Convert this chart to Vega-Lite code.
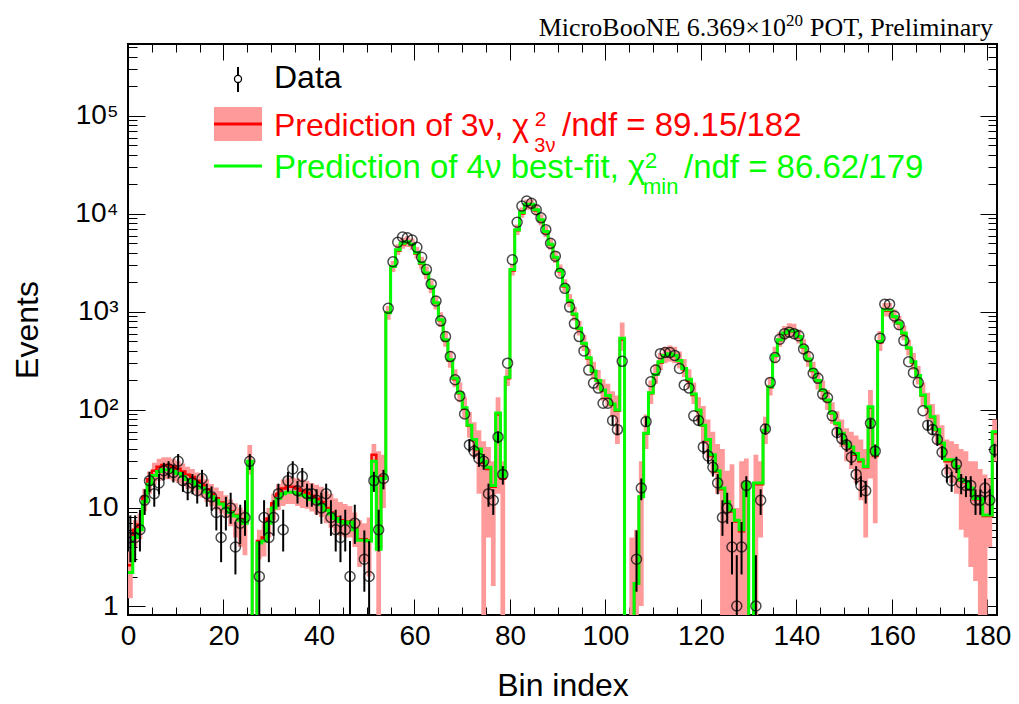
{
"$schema": "https://vega.github.io/schema/vega-lite/v6.json",
"width": 869, "height": 571,
"autosize": {"type": "none"},
"padding": {"left": 128, "top": 44, "right": 22, "bottom": 89},
"background": "white",
"config": {
  "view": {"stroke": "black", "strokeWidth": 2},
  "font": "Liberation Sans",
  "axis": {"domain": false, "grid": false, "labelFont": "Liberation Sans", "labelFontSize": 28, "labelColor": "black", "tickColor": "black", "tickWidth": 1, "titleFont": "Liberation Sans", "titleFontSize": 32, "titleFontWeight": "normal", "titleColor": "black", "labelOverlap": false, "labelFlush": false, "labelBound": false}
},
"datasets": {"h": [
{"b":0,"c":0.5,"g":2.2,"r":2.6,"lo":1.2,"hi":3.6,"d":5,"el":2.8,"eh":8.4},
{"b":1,"c":1.5,"g":5,"r":6,"lo":4,"hi":7.5,"d":5,"el":2.8,"eh":8.4},
{"b":2,"c":2.5,"g":6,"r":6.8,"lo":4.8,"hi":8.8,"d":6,"el":3.6,"eh":9.6},
{"b":3,"c":3.5,"g":11.6,"r":13,"lo":9.3,"hi":15.7,"d":12,"el":8.5,"eh":15.5},
{"b":4,"c":4.5,"g":17.5,"r":19.6,"lo":14,"hi":23.6,"d":19,"el":14.6,"eh":23.4},
{"b":5,"c":5.5,"g":21.5,"r":24,"lo":17.2,"hi":29,"d":14,"el":10.3,"eh":17.7},
{"b":6,"c":6.5,"g":23.5,"r":26.3,"lo":18.8,"hi":31.7,"d":18,"el":13.8,"eh":22.2},
{"b":7,"c":7.5,"g":24.5,"r":27.4,"lo":19.6,"hi":33,"d":24,"el":19.1,"eh":28.9},
{"b":8,"c":8.5,"g":24.5,"r":27.4,"lo":19.6,"hi":33,"d":25,"el":20,"eh":30},
{"b":9,"c":9.5,"g":23.5,"r":26.3,"lo":18.8,"hi":31.7,"d":23,"el":18.2,"eh":27.8},
{"b":10,"c":10.5,"g":22.5,"r":25.2,"lo":18,"hi":30.4,"d":30,"el":24.5,"eh":35.5},
{"b":11,"c":11.5,"g":21,"r":23.5,"lo":16.8,"hi":28.4,"d":19,"el":14.6,"eh":23.4},
{"b":12,"c":12.5,"g":19.5,"r":21.8,"lo":15.6,"hi":26.3,"d":16,"el":12,"eh":20},
{"b":13,"c":13.5,"g":18.5,"r":20.7,"lo":14.8,"hi":25,"d":18,"el":13.8,"eh":22.2},
{"b":14,"c":14.5,"g":17,"r":19,"lo":13.6,"hi":23,"d":15,"el":11.1,"eh":18.9},
{"b":15,"c":15.5,"g":16,"r":17.3,"lo":12.8,"hi":21.6,"d":20,"el":15.5,"eh":24.5},
{"b":16,"c":16.5,"g":14.5,"r":15.5,"lo":11.6,"hi":19.6,"d":14,"el":10.3,"eh":17.7},
{"b":17,"c":17.5,"g":13,"r":13.8,"lo":10.4,"hi":17.6,"d":13,"el":9.4,"eh":16.6},
{"b":18,"c":18.5,"g":12,"r":12.6,"lo":9.6,"hi":16.2,"d":9,"el":5.9,"eh":13},
{"b":19,"c":19.5,"g":11,"r":11.4,"lo":8.8,"hi":14.9,"d":5,"el":2.8,"eh":8.4},
{"b":20,"c":20.5,"g":10,"r":10.3,"lo":8,"hi":13.5,"d":9,"el":5.9,"eh":13},
{"b":21,"c":21.5,"g":9,"r":9.2,"lo":6.5,"hi":12.2,"d":10,"el":6.9,"eh":14.3},
{"b":22,"c":22.5,"g":8.3,"r":8.5,"lo":5,"hi":11.2,"d":4,"el":2.1,"eh":7.2},
{"b":23,"c":23.5,"g":7.5,"r":7.7,"lo":4,"hi":10.1,"d":7,"el":4.3,"eh":10.8},
{"b":24,"c":24.5,"g":7,"r":7.2,"lo":3.3,"hi":9.5,"d":8,"el":5.2,"eh":12},
{"b":25,"c":25.5,"g":30,"r":30,"lo":22,"hi":44,"d":30,"el":24.5,"eh":35.5},
{"b":26,"c":26.5,"g":0.5,"r":0.5,"lo":0.5,"hi":0.5},
{"b":27,"c":27.5,"g":4.4,"r":4.6,"lo":3,"hi":6,"d":2,"el":0.7,"eh":4.6},
{"b":28,"c":28.5,"g":4.6,"r":5,"lo":3.2,"hi":7,"d":8,"el":5.2,"eh":12},
{"b":29,"c":29.5,"g":7,"r":7.8,"lo":5,"hi":10,"d":5,"el":2.8,"eh":8.4},
{"b":30,"c":30.5,"g":10,"r":11.2,"lo":7.5,"hi":14,"d":8,"el":5.2,"eh":12},
{"b":31,"c":31.5,"g":12.5,"r":14,"lo":9.5,"hi":17.5,"d":14,"el":10.3,"eh":17.7},
{"b":32,"c":32.5,"g":14,"r":15.8,"lo":10.5,"hi":19.5,"d":6,"el":3.6,"eh":9.6},
{"b":33,"c":33.5,"g":14.5,"r":16.5,"lo":11,"hi":20.5,"d":19,"el":14.6,"eh":23.4},
{"b":34,"c":34.5,"g":14.5,"r":16.5,"lo":11,"hi":20.5,"d":25,"el":20,"eh":30},
{"b":35,"c":35.5,"g":14,"r":15.8,"lo":10.5,"hi":20,"d":15,"el":11.1,"eh":18.9},
{"b":36,"c":36.5,"g":13.5,"r":15,"lo":10,"hi":19.5,"d":21,"el":16.4,"eh":25.6},
{"b":37,"c":37.5,"g":13,"r":14.3,"lo":9.8,"hi":19,"d":14,"el":10.3,"eh":17.7},
{"b":38,"c":38.5,"g":12.2,"r":13.3,"lo":9.2,"hi":18,"d":14,"el":10.3,"eh":17.7},
{"b":39,"c":39.5,"g":11.5,"r":12.4,"lo":8.6,"hi":17.3,"d":12,"el":8.5,"eh":15.5},
{"b":40,"c":40.5,"g":10.8,"r":11.5,"lo":8.1,"hi":16.5,"d":10,"el":6.9,"eh":14.3},
{"b":41,"c":41.5,"g":9.5,"r":10,"lo":7,"hi":15,"d":14,"el":10.3,"eh":17.7},
{"b":42,"c":42.5,"g":8.7,"r":9,"lo":6.3,"hi":14,"d":8,"el":5.2,"eh":12},
{"b":43,"c":43.5,"g":7.8,"r":8,"lo":5.6,"hi":12.5,"d":6,"el":3.6,"eh":9.6},
{"b":44,"c":44.5,"g":7.3,"r":7.5,"lo":5.2,"hi":11.5,"d":5,"el":2.8,"eh":8.4},
{"b":45,"c":45.5,"g":7,"r":7.2,"lo":5,"hi":11,"d":6,"el":3.6,"eh":9.6},
{"b":46,"c":46.5,"g":7.2,"r":7.3,"lo":5,"hi":10.5,"d":2,"el":0.7,"eh":4.6},
{"b":47,"c":47.5,"g":6,"r":6.1,"lo":4,"hi":9,"d":7,"el":4.3,"eh":10.8},
{"b":48,"c":48.5,"g":4.7,"r":4.8,"lo":2.5,"hi":7.5},
{"b":49,"c":49.5,"g":4.7,"r":4.8,"lo":2.8,"hi":7,"d":3,"el":1.4,"eh":5.9},
{"b":50,"c":50.5,"g":4.6,"r":4.7,"lo":2,"hi":8,"d":2,"el":0.7,"eh":4.6},
{"b":51,"c":51.5,"g":30,"r":35,"lo":20,"hi":45,"d":19,"el":14.6,"eh":23.4},
{"b":52,"c":52.5,"g":3.8,"r":4,"lo":0.5,"hi":38,"d":6,"el":3.6,"eh":9.6},
{"b":53,"c":53.5,"g":20,"r":21,"lo":10,"hi":35,"d":20,"el":15.5,"eh":24.5},
{"b":54,"c":54.5,"g":980,"r":980,"lo":830,"hi":1150,"d":1090,"el":1057,"eh":1123},
{"b":55,"c":55.5,"g":2900,"r":2900,"lo":2550,"hi":3300,"d":3250,"el":3193,"eh":3307},
{"b":56,"c":56.5,"g":4300,"r":4200,"lo":3800,"hi":4900,"d":5130,"el":5058,"eh":5202},
{"b":57,"c":57.5,"g":5000,"r":4900,"lo":4400,"hi":5700,"d":5800,"el":5724,"eh":5876},
{"b":58,"c":58.5,"g":5200,"r":5100,"lo":4600,"hi":5900,"d":5700,"el":5625,"eh":5775},
{"b":59,"c":59.5,"g":4900,"r":4800,"lo":4300,"hi":5600,"d":5400,"el":5327,"eh":5473},
{"b":60,"c":60.5,"g":4000,"r":3950,"lo":3500,"hi":4600,"d":4570,"el":4502,"eh":4638},
{"b":61,"c":61.5,"g":3150,"r":3100,"lo":2750,"hi":3650,"d":3600,"el":3540,"eh":3660},
{"b":62,"c":62.5,"g":2500,"r":2450,"lo":2150,"hi":2900,"d":2700,"el":2648,"eh":2752},
{"b":63,"c":63.5,"g":1800,"r":1780,"lo":1550,"hi":2100,"d":1930,"el":1886,"eh":1974},
{"b":64,"c":64.5,"g":1240,"r":1230,"lo":1060,"hi":1450,"d":1290,"el":1254,"eh":1326},
{"b":65,"c":65.5,"g":830,"r":820,"lo":700,"hi":990,"d":810,"el":782,"eh":838},
{"b":66,"c":66.5,"g":520,"r":515,"lo":440,"hi":630,"d":560,"el":536,"eh":584},
{"b":67,"c":67.5,"g":325,"r":320,"lo":270,"hi":400,"d":350,"el":331,"eh":369},
{"b":68,"c":68.5,"g":210,"r":205,"lo":170,"hi":260,"d":203,"el":189,"eh":217},
{"b":69,"c":69.5,"g":150,"r":148,"lo":120,"hi":190,"d":139,"el":127,"eh":151},
{"b":70,"c":70.5,"g":105,"r":103,"lo":82,"hi":135,"d":91,"el":81.5,"eh":100.5},
{"b":71,"c":71.5,"g":70,"r":69,"lo":52,"hi":95,"d":44,"el":37.4,"eh":50.6},
{"b":72,"c":72.5,"g":50,"r":49,"lo":33,"hi":75,"d":38,"el":31.8,"eh":44.2},
{"b":73,"c":73.5,"g":40,"r":39,"lo":14,"hi":62,"d":32,"el":26.3,"eh":37.7},
{"b":74,"c":74.5,"g":30,"r":29,"lo":0.5,"hi":48,"d":30,"el":24.5,"eh":35.5},
{"b":75,"c":75.5,"g":26,"r":25,"lo":5,"hi":42,"d":14,"el":10.3,"eh":17.7},
{"b":76,"c":76.5,"g":17,"r":16.5,"lo":1.6,"hi":30,"d":12,"el":8.5,"eh":15.5},
{"b":77,"c":77.5,"g":93,"r":90,"lo":14,"hi":135,"d":53,"el":45.7,"eh":60.3},
{"b":78,"c":78.5,"g":21,"r":20,"lo":0.5,"hi":30,"d":22,"el":17.3,"eh":26.7},
{"b":79,"c":79.5,"g":215,"r":210,"lo":175,"hi":260,"d":300,"el":283,"eh":317},
{"b":80,"c":80.5,"g":2700,"r":2650,"lo":2350,"hi":3100,"d":3400,"el":3342,"eh":3458},
{"b":81,"c":81.5,"g":6900,"r":6800,"lo":6100,"hi":7800,"d":8200,"el":8109,"eh":8291},
{"b":82,"c":82.5,"g":10300,"r":10100,"lo":9100,"hi":11600,"d":12000,"el":11890,"eh":12110},
{"b":83,"c":83.5,"g":12500,"r":12300,"lo":11000,"hi":14000,"d":13500,"el":13384,"eh":13616},
{"b":84,"c":84.5,"g":12500,"r":12300,"lo":11000,"hi":14000,"d":12800,"el":12687,"eh":12913},
{"b":85,"c":85.5,"g":11000,"r":10800,"lo":9700,"hi":12400,"d":11000,"el":10895,"eh":11105},
{"b":86,"c":86.5,"g":8700,"r":8600,"lo":7600,"hi":9900,"d":9100,"el":9005,"eh":9195},
{"b":87,"c":87.5,"g":6600,"r":6500,"lo":5800,"hi":7500,"d":6900,"el":6817,"eh":6983},
{"b":88,"c":88.5,"g":4900,"r":4850,"lo":4300,"hi":5600,"d":5000,"el":4929,"eh":5071},
{"b":89,"c":89.5,"g":3600,"r":3550,"lo":3150,"hi":4150,"d":3700,"el":3639,"eh":3761},
{"b":90,"c":90.5,"g":2650,"r":2600,"lo":2300,"hi":3050,"d":2480,"el":2430,"eh":2530},
{"b":91,"c":91.5,"g":1850,"r":1820,"lo":1600,"hi":2150,"d":1740,"el":1698,"eh":1782},
{"b":92,"c":92.5,"g":1300,"r":1280,"lo":1120,"hi":1520,"d":1120,"el":1087,"eh":1153},
{"b":93,"c":93.5,"g":950,"r":940,"lo":810,"hi":1120,"d":760,"el":732,"eh":788},
{"b":94,"c":94.5,"g":680,"r":670,"lo":575,"hi":810,"d":560,"el":536,"eh":584},
{"b":95,"c":95.5,"g":480,"r":475,"lo":400,"hi":580,"d":400,"el":380,"eh":420},
{"b":96,"c":96.5,"g":340,"r":335,"lo":280,"hi":415,"d":255,"el":239,"eh":271},
{"b":97,"c":97.5,"g":250,"r":245,"lo":205,"hi":310,"d":188,"el":174,"eh":202},
{"b":98,"c":98.5,"g":200,"r":197,"lo":160,"hi":255,"d":167,"el":154,"eh":180},
{"b":99,"c":99.5,"g":160,"r":158,"lo":125,"hi":205,"d":117,"el":106,"eh":128},
{"b":100,"c":100.5,"g":140,"r":138,"lo":108,"hi":185,"d":117,"el":106,"eh":128},
{"b":101,"c":101.5,"g":115,"r":113,"lo":85,"hi":155,"d":78,"el":69.2,"eh":86.8},
{"b":102,"c":102.5,"g":100,"r":98,"lo":45,"hi":140,"d":63,"el":55.1,"eh":70.9},
{"b":103,"c":103.5,"g":540,"r":520,"lo":400,"hi":780,"d":313,"el":295,"eh":331},
{"b":104,"c":104.5,"g":0.5,"r":0.5,"lo":0.5,"hi":0.5},
{"b":105,"c":105.5,"g":0.5,"r":0.5,"lo":0.5,"hi":5},
{"b":106,"c":106.5,"g":1.7,"r":1.7,"lo":0.5,"hi":6,"d":3,"el":1.4,"eh":5.9},
{"b":107,"c":107.5,"g":13,"r":13,"lo":1,"hi":30,"d":16,"el":12,"eh":20},
{"b":108,"c":108.5,"g":58,"r":57,"lo":40,"hi":90,"d":76,"el":67.3,"eh":84.7},
{"b":109,"c":109.5,"g":150,"r":148,"lo":115,"hi":200,"d":194,"el":180,"eh":208},
{"b":110,"c":110.5,"g":230,"r":228,"lo":185,"hi":290,"d":255,"el":239,"eh":271},
{"b":111,"c":111.5,"g":310,"r":305,"lo":255,"hi":380,"d":375,"el":356,"eh":394},
{"b":112,"c":112.5,"g":360,"r":355,"lo":300,"hi":440,"d":385,"el":365,"eh":405},
{"b":113,"c":113.5,"g":375,"r":370,"lo":310,"hi":455,"d":385,"el":365,"eh":405},
{"b":114,"c":114.5,"g":360,"r":355,"lo":300,"hi":440,"d":360,"el":341,"eh":379},
{"b":115,"c":115.5,"g":320,"r":315,"lo":265,"hi":395,"d":265,"el":249,"eh":281},
{"b":116,"c":116.5,"g":265,"r":260,"lo":215,"hi":330,"d":180,"el":167,"eh":193},
{"b":117,"c":117.5,"g":205,"r":200,"lo":165,"hi":260,"d":167,"el":154,"eh":180},
{"b":118,"c":118.5,"g":145,"r":142,"lo":115,"hi":190,"d":87,"el":77.7,"eh":96.3},
{"b":119,"c":119.5,"g":100,"r":98,"lo":75,"hi":135,"d":78,"el":69.2,"eh":86.8},
{"b":120,"c":120.5,"g":70,"r":69,"lo":45,"hi":110,"d":42,"el":35.5,"eh":48.5},
{"b":121,"c":121.5,"g":50,"r":49,"lo":32,"hi":80,"d":34,"el":28.2,"eh":39.8},
{"b":122,"c":122.5,"g":35,"r":34,"lo":22,"hi":60,"d":26,"el":20.9,"eh":31.1},
{"b":123,"c":123.5,"g":24,"r":23.5,"lo":14,"hi":45,"d":18,"el":13.8,"eh":22.2},
{"b":124,"c":124.5,"g":16,"r":15.5,"lo":0.5,"hi":40,"d":8,"el":5.2,"eh":12},
{"b":125,"c":125.5,"g":11.6,"r":11.3,"lo":0.5,"hi":24,"d":10,"el":6.9,"eh":14.3},
{"b":126,"c":126.5,"g":9.5,"r":9.2,"lo":0.5,"hi":28,"d":4,"el":2.1,"eh":7.2},
{"b":127,"c":127.5,"g":7.5,"r":7.3,"lo":0.5,"hi":10,"d":1,"el":0.17,"eh":3.3},
{"b":128,"c":128.5,"g":6,"r":5.8,"lo":0.5,"hi":30,"d":4,"el":2.1,"eh":7.2},
{"b":129,"c":129.5,"g":18,"r":17.5,"lo":0.7,"hi":32,"d":17,"el":12.9,"eh":21.1},
{"b":130,"c":130.5,"g":0.5,"r":0.5,"lo":0.5,"hi":0.5},
{"b":131,"c":131.5,"g":18,"r":17.5,"lo":0.5,"hi":35,"d":1,"el":0.17,"eh":3.3},
{"b":132,"c":132.5,"g":18,"r":17.5,"lo":5,"hi":30,"d":12,"el":8.5,"eh":15.5},
{"b":133,"c":133.5,"g":62,"r":61,"lo":45,"hi":85,"d":64,"el":56,"eh":72},
{"b":134,"c":134.5,"g":172,"r":170,"lo":140,"hi":215,"d":191,"el":177,"eh":205},
{"b":135,"c":135.5,"g":360,"r":355,"lo":300,"hi":440,"d":343,"el":324,"eh":362},
{"b":136,"c":136.5,"g":520,"r":515,"lo":440,"hi":620,"d":527,"el":504,"eh":550},
{"b":137,"c":137.5,"g":610,"r":600,"lo":520,"hi":720,"d":600,"el":575,"eh":625},
{"b":138,"c":138.5,"g":650,"r":640,"lo":555,"hi":765,"d":620,"el":595,"eh":645},
{"b":139,"c":139.5,"g":640,"r":630,"lo":545,"hi":755,"d":600,"el":575,"eh":625},
{"b":140,"c":140.5,"g":560,"r":550,"lo":475,"hi":660,"d":570,"el":546,"eh":594},
{"b":141,"c":141.5,"g":440,"r":435,"lo":370,"hi":525,"d":418,"el":398,"eh":438},
{"b":142,"c":142.5,"g":330,"r":325,"lo":275,"hi":400,"d":350,"el":331,"eh":369},
{"b":143,"c":143.5,"g":255,"r":250,"lo":210,"hi":310,"d":237,"el":222,"eh":252},
{"b":144,"c":144.5,"g":200,"r":197,"lo":162,"hi":245,"d":210,"el":196,"eh":224},
{"b":145,"c":145.5,"g":160,"r":157,"lo":128,"hi":200,"d":145,"el":133,"eh":157},
{"b":146,"c":146.5,"g":126,"r":124,"lo":100,"hi":160,"d":133,"el":121.5,"eh":144.5},
{"b":147,"c":147.5,"g":93,"r":92,"lo":72,"hi":120,"d":87,"el":77.7,"eh":96.3},
{"b":148,"c":148.5,"g":73,"r":72,"lo":55,"hi":97,"d":59,"el":51.3,"eh":66.7},
{"b":149,"c":149.5,"g":58,"r":57,"lo":42,"hi":80,"d":51,"el":43.9,"eh":58.1},
{"b":150,"c":150.5,"g":46,"r":45,"lo":30,"hi":65,"d":44,"el":37.4,"eh":50.6},
{"b":151,"c":151.5,"g":42,"r":41,"lo":25,"hi":60,"d":33,"el":27.3,"eh":38.7},
{"b":152,"c":152.5,"g":36,"r":35,"lo":18,"hi":55,"d":22,"el":17.3,"eh":26.7},
{"b":153,"c":153.5,"g":31,"r":30,"lo":12,"hi":50,"d":17,"el":12.9,"eh":21.1},
{"b":154,"c":154.5,"g":26.5,"r":26,"lo":5,"hi":40,"d":15,"el":11.1,"eh":18.9},
{"b":155,"c":155.5,"g":108,"r":105,"lo":20,"hi":160,"d":73,"el":64.5,"eh":81.5},
{"b":156,"c":156.5,"g":35,"r":34,"lo":7,"hi":45,"d":38,"el":31.8,"eh":44.2},
{"b":157,"c":157.5,"g":500,"r":490,"lo":400,"hi":640,"d":540,"el":517,"eh":563},
{"b":158,"c":158.5,"g":1050,"r":1030,"lo":900,"hi":1230,"d":1200,"el":1165,"eh":1235},
{"b":159,"c":159.5,"g":1050,"r":1030,"lo":900,"hi":1230,"d":1200,"el":1165,"eh":1235},
{"b":160,"c":160.5,"g":900,"r":885,"lo":770,"hi":1060,"d":910,"el":880,"eh":940},
{"b":161,"c":161.5,"g":770,"r":760,"lo":655,"hi":910,"d":740,"el":713,"eh":767},
{"b":162,"c":162.5,"g":610,"r":600,"lo":515,"hi":725,"d":510,"el":487,"eh":533},
{"b":163,"c":163.5,"g":430,"r":425,"lo":360,"hi":520,"d":310,"el":292,"eh":328},
{"b":164,"c":164.5,"g":310,"r":305,"lo":255,"hi":380,"d":240,"el":224.5,"eh":255.5},
{"b":165,"c":165.5,"g":225,"r":222,"lo":182,"hi":280,"d":190,"el":176,"eh":204},
{"b":166,"c":166.5,"g":142,"r":140,"lo":110,"hi":190,"d":98,"el":88,"eh":108},
{"b":167,"c":167.5,"g":108,"r":106,"lo":80,"hi":150,"d":70,"el":61.6,"eh":78.4},
{"b":168,"c":168.5,"g":85,"r":84,"lo":62,"hi":115,"d":63,"el":55.1,"eh":70.9},
{"b":169,"c":169.5,"g":63,"r":62,"lo":45,"hi":90,"d":50,"el":42.9,"eh":57.1},
{"b":170,"c":170.5,"g":46,"r":45,"lo":33,"hi":70,"d":37,"el":30.9,"eh":43.1},
{"b":171,"c":171.5,"g":31,"r":30,"lo":22,"hi":50,"d":23,"el":18.2,"eh":27.8},
{"b":172,"c":172.5,"g":31,"r":30,"lo":18,"hi":48,"d":19,"el":14.6,"eh":23.4},
{"b":173,"c":173.5,"g":26.5,"r":26,"lo":14,"hi":45,"d":28,"el":22.7,"eh":33.3},
{"b":174,"c":174.5,"g":19.3,"r":19,"lo":6,"hi":40,"d":18,"el":13.8,"eh":22.2},
{"b":175,"c":175.5,"g":18.6,"r":18.3,"lo":5,"hi":38,"d":17,"el":12.9,"eh":21.1},
{"b":176,"c":176.5,"g":16,"r":15.7,"lo":2.5,"hi":30,"d":17,"el":12.9,"eh":21.1},
{"b":177,"c":177.5,"g":12.5,"r":12.3,"lo":1.8,"hi":30,"d":12,"el":8.5,"eh":15.5},
{"b":178,"c":178.5,"g":12.5,"r":12.3,"lo":0.5,"hi":25,"d":12,"el":8.5,"eh":15.5},
{"b":179,"c":179.5,"g":8.5,"r":8.3,"lo":0.5,"hi":22,"d":16,"el":12,"eh":20},
{"b":180,"c":180.5,"g":8.5,"r":8.3,"lo":4,"hi":20,"d":12,"el":8.5,"eh":15.5},
{"b":181,"c":181.5,"g":60,"r":58,"lo":30,"hi":80,"d":39,"el":32.8,"eh":45.2},
{"b":182,"g":60,"r":58,"lo":30,"hi":80}
]},
"layer": [
{"data": {"name": "h"},
 "mark": {"type": "area", "interpolate": "step-after", "color": "#ff9a9a", "clip": true},
 "encoding": {
  "x": {"field": "b", "type": "quantitative", "scale": {"domain": [0, 182], "nice": false, "zero": false},
        "axis": {"orient": "bottom", "values": [0,5,10,15,20,25,30,35,40,45,50,55,60,65,70,75,80,85,90,95,100,105,110,115,120,125,130,135,140,145,150,155,160,165,170,175,180],
                 "tickSize": {"condition": {"test": "datum.value % 20 == 0", "value": -16}, "value": -8},
                 "labelExpr": "datum.value % 20 == 0 ? datum.label : ''", "labelPadding": 23, "title": "Bin index", "titlePadding": 12}},
  "y": {"field": "hi", "type": "quantitative", "scale": {"type": "log", "domain": [0.81, 540000], "nice": false},
        "axis": {"orient": "left", "values": [1,2,3,4,5,6,7,8,9,10,20,30,40,50,60,70,80,90,100,200,300,400,500,600,700,800,900,1000,2000,3000,4000,5000,6000,7000,8000,9000,10000,20000,30000,40000,50000,60000,70000,80000,90000,100000,200000,300000,400000,500000],
                 "tickSize": {"condition": {"test": "indexof([1,10,100,1000,10000,100000], datum.value) >= 0", "value": -17}, "value": -9},
                 "labelExpr": "datum.value == 1 ? '1' : datum.value == 10 ? '10' : datum.value == 100 ? '10²' : datum.value == 1000 ? '10³' : datum.value == 10000 ? '10⁴' : datum.value == 100000 ? '10⁵' : ''",
                 "labelPadding": 27, "title": "Events", "titlePadding": 30}},
  "y2": {"field": "lo"}
 }},
{"data": {"name": "h"},
 "mark": {"type": "line", "interpolate": "step-after", "color": "#ff0000", "strokeWidth": 2.5, "clip": true},
 "encoding": {
  "x": {"field": "b", "type": "quantitative",
        "axis": {"orient": "top", "values": [0,5,10,15,20,25,30,35,40,45,50,55,60,65,70,75,80,85,90,95,100,105,110,115,120,125,130,135,140,145,150,155,160,165,170,175,180],
                 "tickSize": {"condition": {"test": "datum.value % 20 == 0", "value": -16}, "value": -8}, "labels": false, "title": null, "minExtent": 0}},
  "y": {"field": "r", "type": "quantitative",
        "axis": {"orient": "right", "values": [1,2,3,4,5,6,7,8,9,10,20,30,40,50,60,70,80,90,100,200,300,400,500,600,700,800,900,1000,2000,3000,4000,5000,6000,7000,8000,9000,10000,20000,30000,40000,50000,60000,70000,80000,90000,100000,200000,300000,400000,500000],
                 "tickSize": {"condition": {"test": "indexof([1,10,100,1000,10000,100000], datum.value) >= 0", "value": -17}, "value": -9}, "labels": false, "title": null, "minExtent": 0}}
 }},
{"data": {"name": "h"},
 "mark": {"type": "line", "interpolate": "step-after", "color": "#00ff00", "strokeWidth": 3, "clip": true},
 "encoding": {
  "x": {"field": "b", "type": "quantitative", "axis": null},
  "y": {"field": "g", "type": "quantitative", "axis": null}
 }},
{"data": {"name": "h"},
 "transform": [{"filter": "datum.eh / datum.d > 1.11"}],
 "mark": {"type": "rule", "color": "black", "strokeWidth": 2, "clip": true},
 "encoding": {
  "x": {"field": "c", "type": "quantitative", "axis": null},
  "y": {"field": "el", "type": "quantitative", "axis": null},
  "y2": {"field": "eh"}
 }},
{"data": {"name": "h"},
 "mark": {"type": "point", "shape": "circle", "filled": false, "stroke": "black", "strokeWidth": 1.5, "size": 100, "clip": true},
 "encoding": {
  "x": {"field": "c", "type": "quantitative", "axis": null},
  "y": {"field": "d", "type": "quantitative", "axis": null}
 }},
{"data": {"values": [{}]},
 "mark": {"type": "rect", "color": "#ff9a9a"},
 "encoding": {"x": {"datum": 18.01, "type": "quantitative", "axis": null}, "x2": {"datum": 28.06},
              "y": {"datum": 123070, "type": "quantitative", "axis": null}, "y2": {"datum": 55380}}},
{"data": {"values": [{}]},
 "mark": {"type": "rule", "color": "#ff0000", "strokeWidth": 3},
 "encoding": {"x": {"datum": 18.01, "type": "quantitative", "axis": null}, "x2": {"datum": 28.06},
              "y": {"datum": 82540, "type": "quantitative", "axis": null}}},
{"data": {"values": [{}]},
 "mark": {"type": "rule", "color": "#00ff00", "strokeWidth": 3},
 "encoding": {"x": {"datum": 18.01, "type": "quantitative", "axis": null}, "x2": {"datum": 28.06},
              "y": {"datum": 30780, "type": "quantitative", "axis": null}}},
{"data": {"values": [{}]},
 "mark": {"type": "rule", "color": "black", "strokeWidth": 2},
 "encoding": {"x": {"datum": 23.04, "type": "quantitative", "axis": null},
              "y": {"datum": 314900, "type": "quantitative", "axis": null}, "y2": {"datum": 175000}}},
{"data": {"values": [{}]},
 "mark": {"type": "point", "shape": "circle", "filled": true, "fill": "white", "stroke": "black", "strokeWidth": 1.3, "size": 50, "opacity": 1},
 "encoding": {"x": {"datum": 23.04, "type": "quantitative", "axis": null},
              "y": {"datum": 237600, "type": "quantitative", "axis": null}}},
{"data": {"values": [{}]},
 "mark": {"type": "text", "text": "Data", "align": "left", "baseline": "alphabetic", "font": "Liberation Sans", "fontSize": 32, "color": "black"},
 "encoding": {"x": {"datum": 30.58, "type": "quantitative", "axis": null}, "y": {"datum": 192200, "type": "quantitative", "axis": null}}},
{"data": {"values": [{}]},
 "mark": {"type": "text", "text": "Prediction of 3ν, χ", "align": "left", "baseline": "alphabetic", "font": "Liberation Sans", "fontSize": 32, "color": "#ff0000"},
 "encoding": {"x": {"datum": 30.58, "type": "quantitative", "axis": null}, "y": {"datum": 62290, "type": "quantitative", "axis": null}}},
{"data": {"values": [{}]},
 "mark": {"type": "text", "text": "2", "align": "left", "baseline": "alphabetic", "font": "Liberation Sans", "fontSize": 21, "color": "#ff0000"},
 "encoding": {"x": {"datum": 85.2, "type": "quantitative", "axis": null}, "y": {"datum": 78500, "type": "quantitative", "axis": null}}},
{"data": {"values": [{}]},
 "mark": {"type": "text", "text": "3ν", "align": "left", "baseline": "alphabetic", "font": "Liberation Sans", "fontSize": 20, "color": "#ff0000"},
 "encoding": {"x": {"datum": 85.1, "type": "quantitative", "axis": null}, "y": {"datum": 42760, "type": "quantitative", "axis": null}}},
{"data": {"values": [{}]},
 "mark": {"type": "text", "text": "/ndf = 89.15/182", "align": "left", "baseline": "alphabetic", "font": "Liberation Sans", "fontSize": 33, "color": "#ff0000"},
 "encoding": {"x": {"datum": 90.9, "type": "quantitative", "axis": null}, "y": {"datum": 62290, "type": "quantitative", "axis": null}}},
{"data": {"values": [{}]},
 "mark": {"type": "text", "text": "Prediction of 4ν best-fit, χ", "align": "left", "baseline": "alphabetic", "font": "Liberation Sans", "fontSize": 33, "color": "#00ff00"},
 "encoding": {"x": {"datum": 30.58, "type": "quantitative", "axis": null}, "y": {"datum": 23220, "type": "quantitative", "axis": null}}},
{"data": {"values": [{}]},
 "mark": {"type": "text", "text": "2", "align": "left", "baseline": "alphabetic", "font": "Liberation Sans", "fontSize": 22, "color": "#00ff00"},
 "encoding": {"x": {"datum": 108.27, "type": "quantitative", "axis": null}, "y": {"datum": 29370, "type": "quantitative", "axis": null}}},
{"data": {"values": [{}]},
 "mark": {"type": "text", "text": "min", "align": "left", "baseline": "alphabetic", "font": "Liberation Sans", "fontSize": 22, "color": "#00ff00"},
 "encoding": {"x": {"datum": 107.85, "type": "quantitative", "axis": null}, "y": {"datum": 15950, "type": "quantitative", "axis": null}}},
{"data": {"values": [{}]},
 "mark": {"type": "text", "text": "/ndf = 86.62/179", "align": "left", "baseline": "alphabetic", "font": "Liberation Sans", "fontSize": 33, "color": "#00ff00"},
 "encoding": {"x": {"datum": 116.44, "type": "quantitative", "axis": null}, "y": {"datum": 23220, "type": "quantitative", "axis": null}}},
{"data": {"values": [{}]},
 "mark": {"type": "text", "text": "MicroBooNE 6.369×10", "align": "right", "baseline": "alphabetic", "font": "Liberation Serif", "fontSize": 26, "color": "black"},
 "encoding": {"x": {"datum": 137.8, "type": "quantitative", "axis": null}, "y": {"datum": 652000, "type": "quantitative", "axis": null}}},
{"data": {"values": [{}]},
 "mark": {"type": "text", "text": "20", "align": "right", "baseline": "alphabetic", "font": "Liberation Serif", "fontSize": 17, "color": "black"},
 "encoding": {"x": {"datum": 141.36, "type": "quantitative", "axis": null}, "y": {"datum": 824600, "type": "quantitative", "axis": null}}},
{"data": {"values": [{}]},
 "mark": {"type": "text", "text": " POT, Preliminary", "align": "right", "baseline": "alphabetic", "font": "Liberation Serif", "fontSize": 26, "color": "black"},
 "encoding": {"x": {"datum": 181.15, "type": "quantitative", "axis": null}, "y": {"datum": 652000, "type": "quantitative", "axis": null}}}
],
"resolve": {"axis": {"x": "independent", "y": "independent"}}
}
